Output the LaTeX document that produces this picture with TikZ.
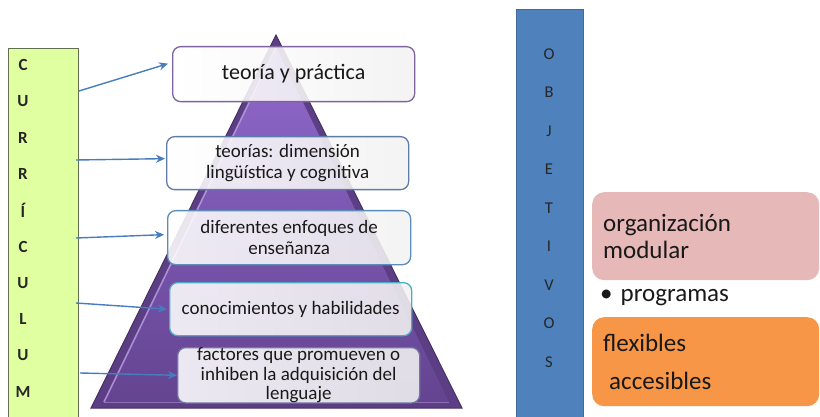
\documentclass[tikz,border=0pt]{standalone}
\usepackage{fontspec}
\setmainfont{Carlito}
\usetikzlibrary{arrows.meta}
\definecolor{curfill}{RGB}{224,255,160}
\definecolor{curdraw}{RGB}{100,110,80}
\definecolor{objfill}{RGB}{79,129,189}
\definecolor{objdraw}{RGB}{65,105,155}
\definecolor{arrowblue}{RGB}{70,125,190}
\definecolor{pyrtop}{RGB}{145,105,205}
\definecolor{pyrbot}{RGB}{100,68,145}
\definecolor{pyrouter}{RGB}{92,62,132}
\definecolor{pyrdraw}{RGB}{70,48,100}
\definecolor{pyrlight}{RGB}{190,160,230}
\definecolor{pinkfill}{RGB}{230,184,183}
\definecolor{orangefill}{RGB}{247,150,70}
\definecolor{bordA}{RGB}{126,100,158}
\definecolor{bordB}{RGB}{95,123,168}
\definecolor{bordC}{RGB}{91,141,184}
\definecolor{bordD}{RGB}{75,172,198}
\definecolor{bordE}{RGB}{110,120,160}
\definecolor{txt}{RGB}{25,25,25}
\tikzset{
  levelbox/.style={draw, line width=1.3pt, rounded corners=8pt, left color=white, right color=black!5, fill opacity=0.88, text opacity=1,
     text=txt, align=center, anchor=north west, inner sep=0pt},
  curletter/.style={font=\fontsize{17}{17}\selectfont\bfseries, text=black!85},
  objletter/.style={font=\fontsize{16.5}{16.5}\selectfont, text=black!85},
  arr/.style={draw=arrowblue, line width=1.4pt, -{Stealth[length=9pt,width=8pt]}},
  sidebox/.style={rounded corners=12pt, anchor=north west, align=left, text=black!90,
     font=\fontsize{25}{27}\selectfont, inner xsep=11pt, text width=205pt}
}
\begin{document}
\begin{tikzpicture}[x=1pt,y=-1pt]
\useasboundingbox (0,0) rectangle (820,417);
\clip (0,0) rectangle (820,417);
% curriculum column
\node (cur) [draw=curdraw, line width=1pt, fill=curfill, minimum width=70pt, minimum height=390pt, anchor=north west, inner sep=0pt] at (8,48) {};
\foreach \l [count=\i] in {C,U,R,R,Í,C,U,L,U,M} {
  \node (lc\i) [curletter] at (23,{65+36.3*(\i-1)}) {\l};
}
% pyramid
\coordinate (apex) at (276,35);
\coordinate (bl) at (91,408);
\coordinate (br) at (462,408);
\fill[pyrouter, draw=pyrdraw, line width=1pt] (apex) -- (br) -- (bl) -- cycle;
\shade[top color=pyrtop, bottom color=pyrbot] ([yshift=-12pt]apex) -- ([xshift=-13pt,yshift=6pt]br) -- ([xshift=13pt,yshift=6pt]bl) -- cycle;
\draw[pyrlight, opacity=0.8, line width=1.6pt] ([yshift=-12pt]apex) -- ([xshift=13pt,yshift=6pt]bl);
\draw[pyrlight, opacity=0.5, line width=1pt] ([xshift=13pt,yshift=6pt]bl) -- ([xshift=-13pt,yshift=6pt]br);
% level boxes
\node (b1) [levelbox, draw=bordA, minimum width=242pt, minimum height=55pt, font=\fontsize{22}{24}\selectfont] at (172,46) {teoría y práctica};
\node (b2) [levelbox, draw=bordB, minimum width=242pt, minimum height=53pt, font=\fontsize{19}{21}\selectfont] at (166,136) {teorías: dimensión\\lingüística y cognitiva};
\node (b3) [levelbox, draw=bordC, minimum width=243pt, minimum height=54pt, font=\fontsize{19}{21}\selectfont] at (167,210) {diferentes enfoques de\\enseñanza};
\node (b4) [levelbox, draw=bordD, minimum width=242pt, minimum height=53pt, font=\fontsize{19}{21}\selectfont] at (169,282) {conocimientos y habilidades};
\node (b5) [levelbox, draw=bordE, minimum width=242pt, minimum height=52pt, font=\fontsize{19}{19.5}\selectfont] at (177,347) {factores que promueven o\\inhiben la adquisición del\\lenguaje};
% arrows
\coordinate (a1) at (79,91);
\coordinate (a2) at (76,160);
\coordinate (a3) at (76,238);
\coordinate (a4) at (76,303);
\coordinate (a5) at (80,373);
\draw[arr] (a1) -- ([xshift=-4pt,yshift=10.5pt]b1.west);
\draw[arr] (a2) -- ([xshift=-1pt,yshift=4.5pt]b2.west);
\draw[arr] (a3) -- ([xshift=-3pt,yshift=3pt]b3.west);
\draw[arr] (a4) -- ([xshift=-2pt]b4.west);
\draw[arr] (a5) -- (b5.west);
% objetivos column
\node (obj) [draw=objdraw, line width=1pt, fill=objfill, minimum width=67pt, minimum height=420pt, anchor=north west, inner sep=0pt] at (516,9) {};
\foreach \l [count=\i] in {O,B,J,E,T,I,V,O,S} {
  \node (lo\i) [objletter] at (549,{54+38.5*(\i-1)}) {\l};
}
% right boxes
\node (org) [sidebox, fill=pinkfill, minimum height=88pt] at (592,192) {organización\\modular};
\node (prog) [anchor=west, font=\fontsize{25}{27}\selectfont, text=black!90, inner sep=0pt] at (600,298) {•\hspace{8pt}programas};
\node (flex) [sidebox, fill=orangefill, minimum height=89pt, font=\fontsize{25}{27}\selectfont] at (592,317) {flexibles\\[11pt]\hspace{6pt}accesibles};
\end{tikzpicture}
\end{document}
